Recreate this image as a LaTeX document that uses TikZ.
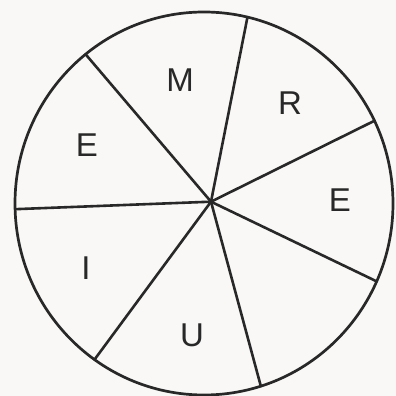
\documentclass[tikz,border=0pt]{standalone}
\usepackage{fontspec}
\setmainfont{Liberation Sans}
\usetikzlibrary{calc}
\definecolor{ink}{RGB}{40,40,40}
\definecolor{paper}{RGB}{249,248,246}
\begin{document}
\begin{tikzpicture}[x=1pt,y=1pt,
  rim/.style={draw=ink,line width=2.7pt},
  spoke/.style={draw=ink,line width=2.6pt,line cap=round},
  letter/.style={text=ink,font=\fontsize{33}{33}\selectfont,inner sep=0pt}]
\fill[paper] (0,0) rectangle (396,396);
\useasboundingbox (0,0) rectangle (396,396);
\coordinate (O) at (204,192.5);
\coordinate (C) at (211,194.3);
\draw[rim] (O) ellipse [x radius=189, y radius=191.5];
\foreach \a [count=\i] in {128.8,76.7,25.6,-24,-72.5,-125.4,181.7}{
  \coordinate (p\i) at ($(O)+(\a:189 and 191.5)$);
  \draw[spoke] (C) -- (p\i);
}
\node[letter] (m) at (180,316) {M};
\node[letter] (r) at (290,293) {R};
\node[letter] (e1) at (340,196) {E};
\node[letter] (u) at (192,61) {U};
\node[letter] (i) at (86,128) {I};
\node[letter] (e2) at (87,251) {E};
\end{tikzpicture}
\end{document}
